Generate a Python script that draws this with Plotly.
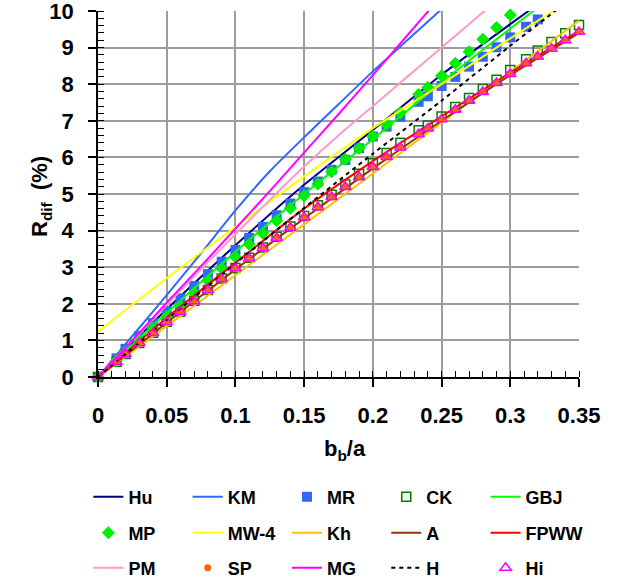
import plotly.graph_objects as go

# ---- data -------------------------------------------------------------
# b_b/a sample positions of the marker series
x_pts = [0, 0.0135, 0.02, 0.03, 0.04, 0.05, 0.06, 0.07, 0.08, 0.09, 0.10,
         0.11, 0.12, 0.13, 0.14, 0.15, 0.16, 0.17, 0.18, 0.19, 0.20, 0.21,
         0.22, 0.2333, 0.24, 0.25, 0.26, 0.27, 0.28, 0.29, 0.30, 0.3115,
         0.32, 0.33, 0.34, 0.35]

mr = [0, 0.51, 0.77, 1.12, 1.47, 1.80, 2.15, 2.49, 2.81, 3.15, 3.47, 3.80,
      4.10, 4.42, 4.74, 5.05, 5.34, 5.66, 5.93, 6.25, 6.57, 6.84, 7.11, 7.52,
      7.67, 7.95, 8.20, 8.48, 8.75, 9.01, 9.28, 9.57, 9.77]
mp = [0, 0.45, 0.68, 1.01, 1.33, 1.65, 1.95, 2.30, 2.63, 2.97, 3.28, 3.63,
      3.93, 4.27, 4.61, 4.95, 5.27, 5.61, 5.95, 6.25, 6.58, 6.90, 7.22, 7.72,
      7.91, 8.23, 8.57, 8.89, 9.23, 9.55, 9.89]
ck = [0, 0.42, 0.63, 0.93, 1.21, 1.51, 1.79, 2.08, 2.38, 2.69, 2.98, 3.26,
      3.54, 3.83, 4.11, 4.40, 4.69, 4.98, 5.26, 5.55, 5.84, 6.12, 6.40, 6.74,
      6.87, 7.12, 7.38, 7.62, 7.87, 8.12, 8.39, 8.68, 8.92, 9.15, 9.39, 9.62]
sp = [0, 0.43, 0.63, 0.93, 1.21, 1.51, 1.79, 2.08, 2.38, 2.68, 2.97, 3.25,
      3.53, 3.81, 4.09, 4.37, 4.65, 4.92, 5.20, 5.47, 5.75, 6.02, 6.28, 6.64,
      6.80, 7.05, 7.31, 7.56, 7.80, 8.05, 8.29, 8.58, 8.76, 8.98, 9.21, 9.44]
hi = [0, 0.42, 0.62, 0.92, 1.20, 1.50, 1.78, 2.07, 2.37, 2.68, 2.97, 3.24,
      3.52, 3.80, 4.08, 4.36, 4.64, 4.92, 5.19, 5.46, 5.74, 6.01, 6.27, 6.63,
      6.79, 7.04, 7.30, 7.55, 7.79, 8.03, 8.28, 8.57, 8.75, 8.97, 9.20, 9.43]

# curve knots of the line series
x_knots = [0, 0.05, 0.10, 0.15, 0.20, 0.25, 0.30, 0.35]
hu = [0, 1.85, 3.60, 5.25, 6.75, 8.26, 9.64, 11.0]
gbj = [0, 1.75, 3.42, 5.00, 6.50, 8.05, 9.52, 10.95]
mw4 = [1.24, 2.70, 4.10, 5.48, 6.80, 8.00, 9.25, 10.45]
kh = [0, 1.39, 2.78, 4.17, 5.56, 6.95, 8.34, 9.73]
a_ = [0, 1.48, 2.94, 4.33, 5.70, 7.00, 8.25, 9.40]
fpww = [0, 1.62, 3.12, 4.60, 5.90, 7.12, 8.32, 9.46]
h = [0, 1.56, 3.10, 4.62, 6.10, 7.55, 9.05, 10.50]

x_steep = [0, 0.025, 0.05, 0.075, 0.10, 0.125, 0.15, 0.175, 0.20, 0.225,
           0.25, 0.275, 0.30]
km = [0, 1.12, 2.24, 3.38, 4.55, 5.62, 6.55, 7.45, 8.35, 9.20, 10.05, 10.9, 11.7]
mg = [0, 1.00, 2.03, 3.03, 4.05, 5.08, 6.13, 7.18, 8.25, 9.33, 10.42, 11.5, 12.6]
pm = [0, 0.99, 1.97, 2.95, 3.90, 4.84, 5.75, 6.60, 7.40, 8.20, 9.00, 9.80, 10.6]

FONT = "Liberation Sans, Arial, sans-serif"

fig = go.Figure()


def line(name, xs, ys, color, legend, dash="solid", width=2):
    fig.add_trace(go.Scatter(
        x=xs, y=ys, name=name, mode="lines", legend=legend,
        line=dict(color=color, width=width, dash=dash, shape="spline",
                  smoothing=0.6)))


def markers(name, ys, symbol, color, size, legend, lw=0, lc=None):
    fig.add_trace(go.Scatter(
        x=x_pts[:len(ys)], y=ys, name=name, mode="markers", legend=legend,
        cliponaxis=False,
        marker=dict(symbol=symbol, color=color, size=size,
                    line=dict(width=lw, color=lc or color))))


# row 1 of the key
line("Hu", x_knots, hu, "#000080", "legend")
line("KM", x_steep, km, "#3366FF", "legend")
markers("MR", mr, "square", "#3366FF", 10, "legend")
markers("CK", ck, "square-open", "#008000", 9, "legend", lw=1.5)
line("GBJ", x_knots, gbj, "#00FF00", "legend")
# row 2
markers("MP", mp, "diamond", "#00EE00", 10, "legend2")
line("MW-4", x_knots, mw4, "#FFFF00", "legend2")
line("Kh", x_knots, kh, "#FFC000", "legend2")
line("A", x_knots, a_, "#993300", "legend2")
line("FPWW", x_knots, fpww, "#FF0000", "legend2")
# row 3
line("PM", x_steep, pm, "#FF99CC", "legend3")
markers("SP", sp, "circle", "#FF6600", 7, "legend3")
line("MG", x_steep, mg, "#FF00FF", "legend3")
line("H", x_knots, h, "#000000", "legend3", dash="4px,4px")
markers("Hi", hi, "triangle-up-open", "#FF00FF", 10, "legend3", lw=1.5)

axis_common = dict(
    showline=True, linecolor="black", linewidth=1.5,
    ticks="outside", ticklen=8, tickwidth=1.5, tickcolor="black",
    showgrid=True, gridcolor="#9c9c9c", gridwidth=1.5,
    zeroline=False, ticklabeloverflow="allow",
    tickfont=dict(family=FONT, size=22, color="black", weight="bold"),
)

fig.update_xaxes(range=[0, 0.35], tick0=0, dtick=0.05, ticklabelstandoff=10,
                 minor=dict(dtick=0.01, ticks="inside", ticklen=6,
                            tickwidth=1.2, tickcolor="black", showgrid=False),
                 **axis_common)
fig.update_yaxes(range=[0, 10], tick0=0, dtick=1, ticklabelstandoff=10,
                 minor=dict(dtick=0.2, ticks="inside", ticklen=6,
                            tickwidth=1.2, tickcolor="black", showgrid=False),
                 **axis_common)

# inner half of the major tick marks (major ticks cross the axis line)
inner_ticks = dict(ticks="inside", ticklen=7, tickwidth=1.5, tickcolor="black",
                   showticklabels=False, showgrid=False, showline=False,
                   zeroline=False)

legend_common = dict(
    orientation="h", xref="paper", yref="paper", x=-0.02, xanchor="left",
    yanchor="middle", entrywidth=54.3, entrywidthmode="pixels",
    font=dict(family=FONT, size=18, color="black", weight="bold"),
    bgcolor="rgba(0,0,0,0)", borderwidth=0, itemclick=False,
)
PLOT_TOP, PLOT_BOTTOM = 11, 377


def py(pix):
    return (PLOT_BOTTOM - pix) / (PLOT_BOTTOM - PLOT_TOP)


fig.update_layout(
    width=623, height=583,
    margin=dict(l=98, r=44, t=PLOT_TOP, b=583 - PLOT_BOTTOM, autoexpand=False),
    paper_bgcolor="white", plot_bgcolor="white",
    showlegend=True,
    xaxis2=dict(overlaying="x", matches="x", anchor="y", side="bottom",
                tick0=0, dtick=0.05, **inner_ticks),
    yaxis2=dict(overlaying="y", matches="y", anchor="x", side="left",
                tick0=0, dtick=1, **inner_ticks),
    legend=dict(y=py(497), **legend_common),
    legend2=dict(y=py(533), **legend_common),
    legend3=dict(y=py(568), **legend_common),
    annotations=[
        dict(text="b<sub>b</sub>/a", xref="paper", yref="paper",
             x=0.513, y=py(450), yanchor="middle", showarrow=False,
             font=dict(family=FONT, size=22, color="black", weight="bold")),
        dict(text="R<sub>dif</sub>  (%)", xref="paper", yref="paper",
             x=(25 - 98) / 481, y=py(197), textangle=-90, showarrow=False,
             font=dict(family=FONT, size=22, color="black", weight="bold")),
    ],
)

fig.write_html("out.html")
